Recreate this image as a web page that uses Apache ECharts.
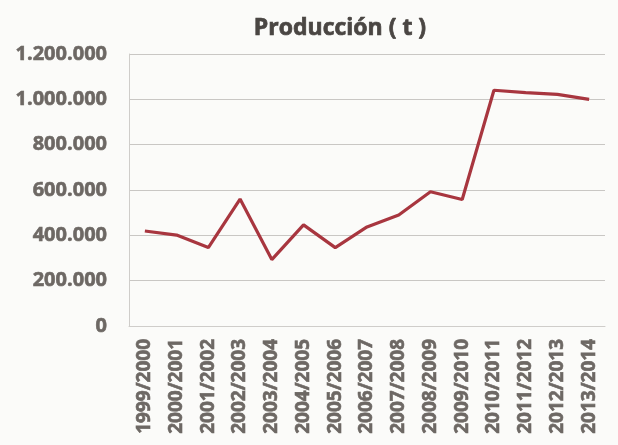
<!DOCTYPE html>
<html>
<head>
<meta charset="utf-8">
<script src="https://cdn.jsdelivr.net/npm/echarts@6/dist/echarts.min.js"></script>
<style>
html,body{margin:0;padding:0;background:#fbfbf9;}
#chart{width:618px;height:445px;}
</style>
</head>
<body>
<div id="chart"></div>
<script>
var title = 'Producción ( t )';
var categories = ['1999/2000','2000/2001','2001/2002','2002/2003','2003/2004','2004/2005','2005/2006','2006/2007','2007/2008','2008/2009','2009/2010','2010/2011','2011/2012','2012/2013','2013/2014'];
var production = [419000, 401000, 346000, 560000, 293000, 446000, 346000, 437000, 490000, 592000, 558000, 1040000, 1030000, 1022000, 1000000];
var yTicks = [0, 200000, 400000, 600000, 800000, 1000000, 1200000];

function fmt(v){
  return String(v).replace(/\B(?=(\d{3})+(?!\d))/g, '.');
}

var labelFont = {fontFamily: 'Open Sans', fontWeight: 'bold', fontSize: 19, color: '#6d6864', textBorderColor: '#6d6864', textBorderWidth: 0.6};

var chart = echarts.init(document.getElementById('chart'));
chart.setOption({
  backgroundColor: '#fbfbf9',
  animation: false,
  title: {
    text: title,
    left: 335,
    top: 12,
    textAlign: 'center',
    textStyle: {fontFamily: 'Open Sans', fontWeight: 'bold', fontSize: 23, color: '#4a4643', textBorderColor: '#4a4643', textBorderWidth: 0.7}
  },
  grid: {left: 129, right: 13, top: 54, bottom: 119},
  xAxis: {
    type: 'category',
    data: categories,
    boundaryGap: true,
    axisLine: {lineStyle: {color: '#cfcdca', width: 1}},
    axisTick: {show: false},
    axisLabel: Object.assign({rotate: 90, margin: 13, interval: 0}, labelFont)
  },
  yAxis: {
    type: 'value',
    min: yTicks[0],
    max: yTicks[yTicks.length - 1],
    interval: yTicks[1] - yTicks[0],
    axisLine: {show: true, lineStyle: {color: '#cfcdca', width: 1}},
    axisTick: {show: false},
    splitLine: {lineStyle: {color: '#c9c7c4', width: 1}},
    axisLabel: Object.assign({margin: 22, formatter: fmt}, labelFont, {fontSize: 20})
  },
  series: [{
    type: 'line',
    data: production,
    symbol: 'none',
    lineStyle: {color: '#a8363f', width: 3.2},
    itemStyle: {color: '#a8363f'}
  }]
});
</script>
</body>
</html>
